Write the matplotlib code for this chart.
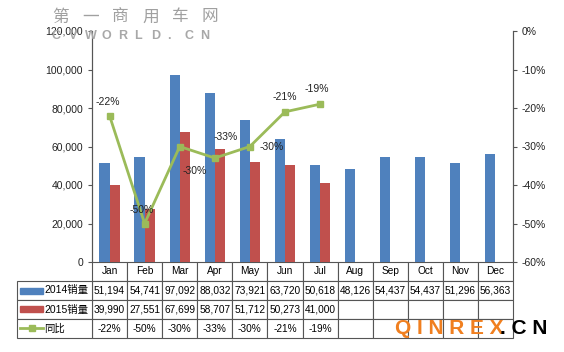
import matplotlib
matplotlib.use('Agg')
import matplotlib.pyplot as plt
from matplotlib.patches import Rectangle
from matplotlib.lines import Line2D
from matplotlib.ticker import FuncFormatter

plt.rcParams['font.family'] = ['Liberation Sans', 'Noto Sans CJK SC', 'DejaVu Sans']

months = ['Jan', 'Feb', 'Mar', 'Apr', 'May', 'Jun', 'Jul', 'Aug', 'Sep', 'Oct', 'Nov', 'Dec']
sales_2014 = [51194, 54741, 97092, 88032, 73921, 63720, 50618, 48126, 54437, 54437, 51296, 56363]
sales_2015 = [39990, 27551, 67699, 58707, 51712, 50273, 41000]
yoy = [-22, -50, -30, -33, -30, -21, -19]
row_labels = ['2014销量', '2015销量', '同比']

blue = '#4F81BD'
red = '#C0504D'
green = '#9BBB59'

fig = plt.figure(figsize=(5.64, 3.52), dpi=100)
W, H = 564, 352
ax_l, ax_r, ax_t, ax_b = 92, 513, 31, 262
ax = fig.add_axes([ax_l / W, 1 - ax_b / H, (ax_r - ax_l) / W, (ax_b - ax_t) / H])
ax2 = ax.twinx()

x = list(range(len(months)))
bw = 0.29
ax.bar([i - bw / 2 for i in x], sales_2014, bw, color=blue, zorder=2)
ax.bar([i + bw / 2 for i in range(len(sales_2015))], sales_2015, bw, color=red, zorder=2)
ax.set_xlim(-0.5, len(months) - 0.5)
ax.set_ylim(0, 120000)
ax.set_yticks(range(0, 120001, 20000))
ax.yaxis.set_major_formatter(FuncFormatter(lambda v, p: f'{v:,.0f}'))
ax.set_xticks([])
ax.tick_params(axis='y', labelsize=7.5, length=3, color='#555555', colors='#222222')

ax2.plot(range(len(yoy)), yoy, color=green, lw=2, marker='s', ms=4.5, zorder=3)
ax2.set_ylim(-60, 0)
ax2.set_yticks(range(-60, 1, 10))
ax2.yaxis.set_major_formatter(FuncFormatter(lambda v, p: f'{v:.0f}%'))
ax2.tick_params(axis='y', labelsize=7.5, length=3, color='#555555', colors='#222222')

for a in (ax, ax2):
    a.spines['top'].set_visible(False)
    a.spines['bottom'].set_visible(False)
    a.spines['left'].set_color('#555555')
    a.spines['right'].set_color('#555555')

offsets = [(-1, 10), (-2, 10), (11, -18), (8, 15), (16, 0), (0, 11), (-2, 11)]
for i, (v, off) in enumerate(zip(yoy, offsets)):
    ax2.annotate(f'{v}%', (i, v), xytext=off, textcoords='offset points',
                 ha='center', va='center', fontsize=7.5, color='#222222')

# data table under the chart
h_tab = 76 / (ax_b - ax_t)
cells = [months,
         [f'{v:,}' for v in sales_2014],
         [f'{v:,}' for v in sales_2015] + [''] * (len(months) - len(sales_2015)),
         [f'{v}%' for v in yoy] + [''] * (len(months) - len(yoy))]
tab = ax.table(cellText=cells, cellLoc='center', bbox=[0, -h_tab, 1, h_tab])
tab.auto_set_font_size(False)
tab.set_fontsize(7.3)
for c in tab.get_celld().values():
    c.set_edgecolor('#555555')
    c.set_linewidth(0.8)
    c.PAD = 0.02

lw_frac = 75 / (ax_r - ax_l)
h_lab = 57 / (ax_b - ax_t)
tab2 = ax.table(cellText=[[s] for s in row_labels], cellLoc='left',
                bbox=[-lw_frac, -h_tab, lw_frac, h_lab])
tab2.auto_set_font_size(False)
tab2.set_fontsize(7.5)
for c in tab2.get_celld().values():
    c.set_edgecolor('#555555')
    c.set_linewidth(0.8)
    c.PAD = 0.36

# legend keys in the row label cells
def fx(px):
    return (px - ax_l) / (ax_r - ax_l)

def fy(py):
    return (ax_b - py) / (ax_b - ax_t)

for col, yc in ((blue, 290.5), (red, 309)):
    ax.add_patch(Rectangle((fx(20), fy(yc + 3)), fx(43) - fx(20), fy(yc - 3) - fy(yc + 3),
                           transform=ax.transAxes, color=col, clip_on=False))
ax.add_line(Line2D([fx(20), fx(43)], [fy(328), fy(328)], transform=ax.transAxes,
                   color=green, lw=2, clip_on=False))
ax.plot([fx(31.5)], [fy(328)], transform=ax.transAxes, marker='s', ms=4,
        color=green, clip_on=False)

# watermarks
for k, ch in enumerate('第一商用车网'):
    fig.text((52 + k * 30) / W, 1 - 17 / H, ch, fontsize=12, color='#a0a0a0',
             family=['Noto Sans CJK SC'], va='center')
for k, ch in enumerate('CVWORLD.CN'):
    fig.text((52 + k * 16.5) / W, 1 - 36 / H, ch, fontsize=9, color='#a8a8a8',
             fontweight='bold', va='center')
fig.text(395 / W, 1 - 329 / H, 'Q I N R E X', fontsize=15, color='#F07F1F',
         fontweight='bold', va='center')
fig.text(500 / W, 1 - 329 / H, '. C N', fontsize=15, color='black',
         fontweight='bold', va='center')

fig.savefig('out.png', dpi=100)
